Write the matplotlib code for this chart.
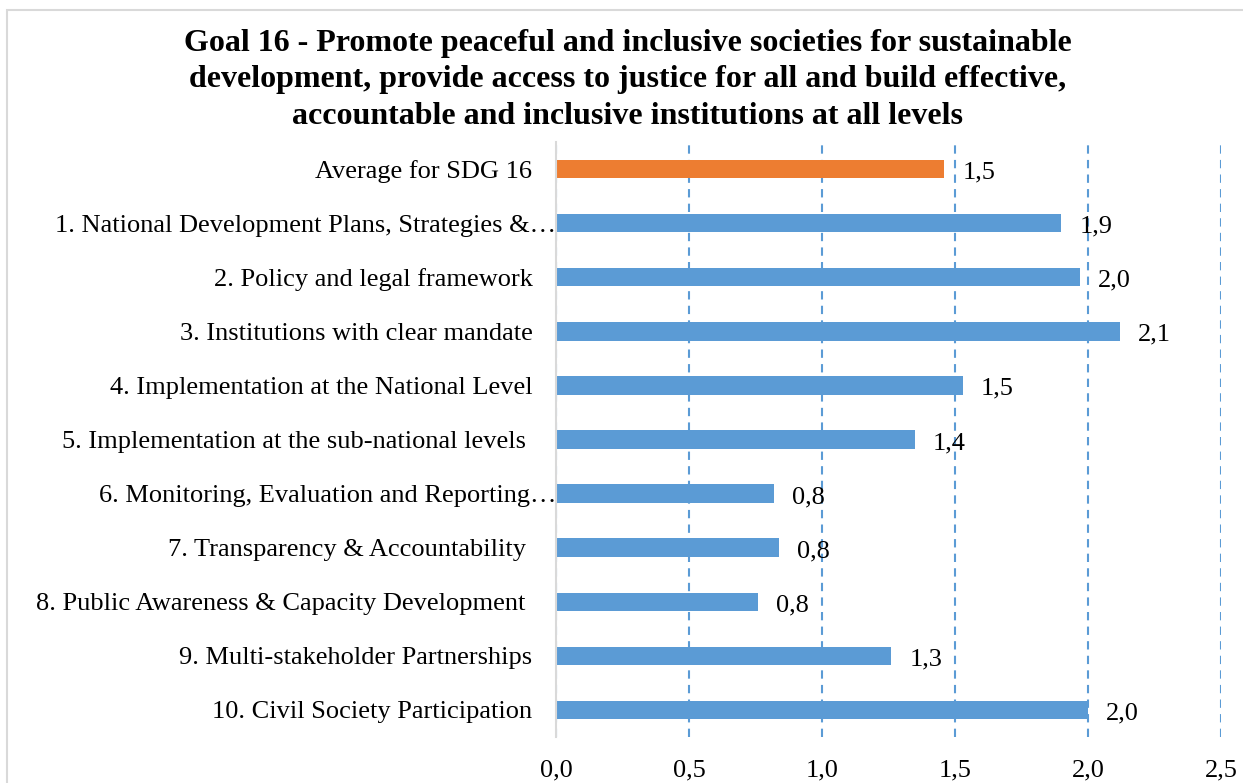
import matplotlib.pyplot as plt
from matplotlib import patches, transforms

plt.rcParams['font.family'] = ['Liberation Serif', 'DejaVu Serif']

categorias = [
    'Average for SDG 16',
    '1. National Development Plans, Strategies &…',
    '2. Policy and legal framework',
    '3. Institutions with clear mandate',
    '4. Implementation at the National Level',
    '5. Implementation at the sub-national levels ',
    '6. Monitoring, Evaluation and Reporting…',
    '7. Transparency & Accountability ',
    '8. Public Awareness & Capacity Development ',
    '9. Multi-stakeholder Partnerships',
    '10. Civil Society Participation',
]
valores = [1.46, 1.90, 1.97, 2.12, 1.53, 1.35, 0.82, 0.84, 0.76, 1.26, 2.00]
x_ticks = [0.0, 0.5, 1.0, 1.5, 2.0, 2.5]

titulo = ('Goal 16 - Promote peaceful and inclusive societies for sustainable\n'
          'development, provide access to justice for all and build effective,\n'
          'accountable and inclusive institutions at all levels')

azul = '#5B9BD5'
laranja = '#ED7D31'

fig = plt.figure(figsize=(12.43, 7.83), dpi=100)
ax = fig.add_axes([556/1243, 1 - 737/783, 665/1243, 595/783])

pos = list(range(len(categorias)))
cores = [laranja] + [azul] * (len(categorias) - 1)
ax.barh(pos, valores, height=0.34, color=cores, zorder=3)

for y, v in zip(pos, valores):
    ax.annotate(f'{v:.1f}'.replace('.', ','), (v, y), xytext=(13, -2.5),
                textcoords='offset points', va='center', ha='left',
                fontsize=19, zorder=4)

ax.set_xlim(0, 2.5)
ax.set_ylim(len(categorias) - 0.5, -0.5)
ax.set_xticks(x_ticks)
ax.set_xticklabels([f'{t:.1f}'.replace('.', ',') for t in x_ticks], fontsize=19)
ax.set_yticks(pos)
ax.set_yticklabels(categorias, fontsize=19)
ax.tick_params(axis='both', length=0)
ax.tick_params(axis='x', pad=16)
ax.tick_params(axis='y', pad=17)

# rotulos truncados encostam no eixo
desloc = transforms.ScaledTranslation(24/100, 0, fig.dpi_scale_trans)
for lbl in ax.get_yticklabels():
    if lbl.get_text().endswith('…'):
        lbl.set_transform(lbl.get_transform() + desloc)

ax.grid(axis='x', color=azul, ls=(0, (4, 3)), lw=1.5, zorder=1)
ax.grid(axis='y', visible=False)
for s in ['top', 'right', 'bottom']:
    ax.spines[s].set_visible(False)
ax.spines['left'].set_color('#D9D9D9')
ax.spines['left'].set_linewidth(1.5)
ax.spines['left'].set_zorder(5)

fig.text(628/1243, 1 - 80/783, titulo, ha='center', va='center',
         fontsize=23, weight='bold', linespacing=1.33)

fig.patches.append(patches.Rectangle((7/1243, -0.2), 1.2, 1 - 10/783 + 0.2,
                                     transform=fig.transFigure, fill=False,
                                     edgecolor='#D9D9D9', lw=1.5))

fig.savefig('out.png', dpi=100)
